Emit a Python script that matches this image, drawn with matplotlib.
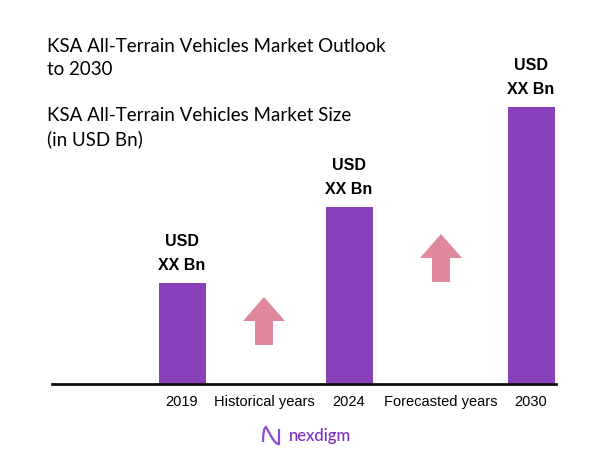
import numpy as np
import matplotlib.pyplot as plt
from matplotlib.path import Path
from matplotlib.patches import PathPatch

# chart data
years = ["2019", "2024", "2030"]
market_size = [101, 177, 277]          # relative bar heights (values hidden as XX)
value_labels = ["USD\nXX Bn", "USD\nXX Bn", "USD\nXX Bn"]
period_labels = ["Historical years", "Forecasted years"]

# layout (pixel-like units, y = 0 at baseline)
W, H = 602, 451
BASE = 384
bar_x = [182, 349, 531]
bar_w = 47
period_x = [264, 441]
arrow_bottom = [39, 102]
arrow_len = 48

BAR_COLOR = "#8940BB"
ARROW_COLOR = "#E0899E"

fig = plt.figure(figsize=(W / 100, H / 100), dpi=100)
ax = fig.add_axes([0, 0, 1, 1])
ax.set_xlim(0, W)
ax.set_ylim(BASE - H, BASE)
ax.axis("off")

ax.bar(bar_x, market_size, width=bar_w, color=BAR_COLOR, zorder=2)
ax.plot([52, 556], [0, 0], color="#111111", linewidth=2, zorder=3)

for x, h, lab in zip(bar_x, market_size, value_labels):
    ax.text(x, h + 10, lab, ha="center", va="bottom", fontsize=11.5,
            fontweight="bold", family="Liberation Sans", linespacing=1.75)

for x, y in zip(period_x, arrow_bottom):
    ax.arrow(x, y, 0, arrow_len, width=18, head_width=42, head_length=24,
             length_includes_head=True, color=ARROW_COLOR, linewidth=0, zorder=2)

for x, lab in zip(bar_x, years):
    ax.text(x, -18, lab, ha="center", va="center", fontsize=10.5,
            family="Liberation Sans")
for x, lab in zip(period_x, period_labels):
    ax.text(x, -18, lab, ha="center", va="center", fontsize=10.5,
            family="Liberation Sans")

ax.text(47, BASE - 38, "KSA All-Terrain Vehicles Market Outlook\nto 2030",
        ha="left", va="top", fontsize=13.5, family="Lato", linespacing=1.45)
ax.text(47, BASE - 107, "KSA All-Terrain Vehicles Market Size\n(in USD Bn)",
        ha="left", va="top", fontsize=13.5, family="Lato", linespacing=1.45)

# logo
ax.text(289, BASE - 436, "nexdigm", ha="left", va="center", fontsize=12,
        color="#7A2FC0", family="Lato", fontweight="medium")
icon = Path([(263, -58), (263, -44), (266, -43), (271, -52), (276, -61),
             (279, -60), (279, -45)],
            [Path.MOVETO, Path.CURVE3, Path.CURVE3, Path.LINETO,
             Path.CURVE3, Path.CURVE3, Path.LINETO])
ax.add_patch(PathPatch(icon, fill=False, edgecolor="#8A4CD0", linewidth=1.6))

fig.savefig("out.png", dpi=100)
